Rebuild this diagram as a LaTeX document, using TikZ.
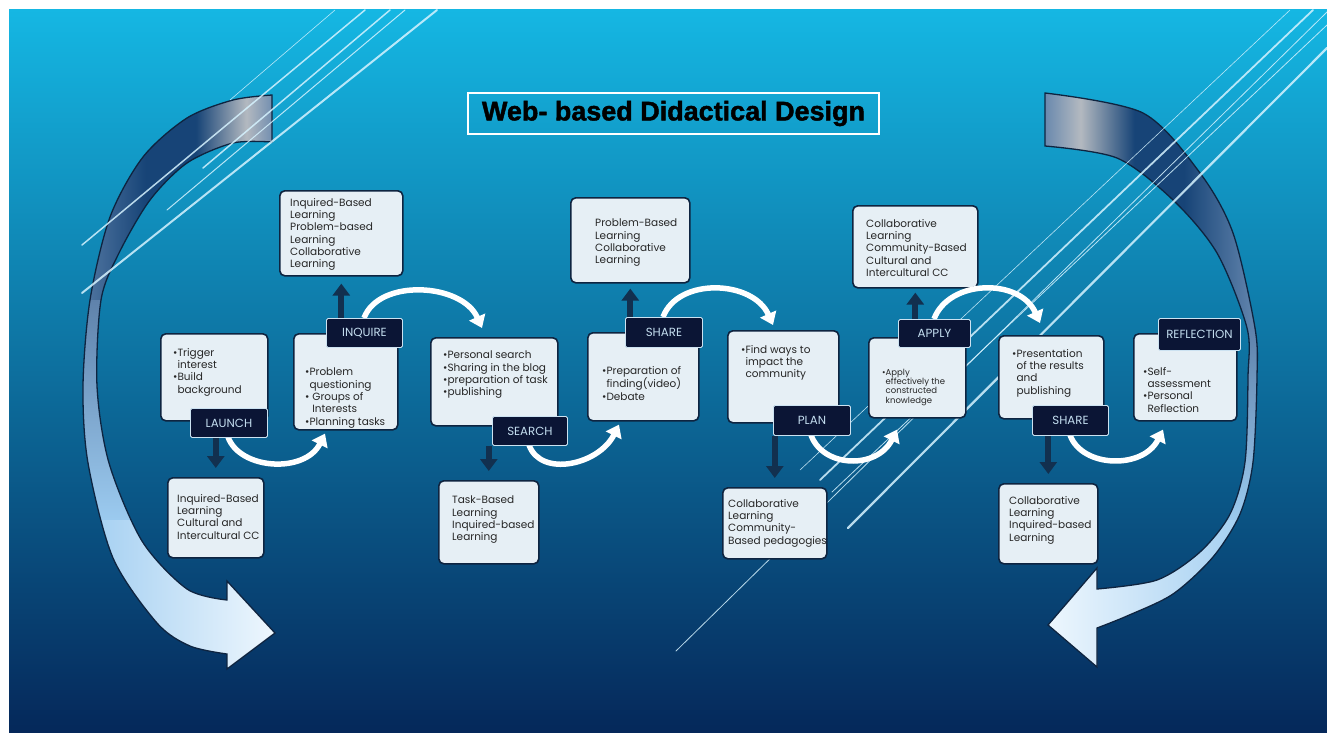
\documentclass[tikz,border=0pt]{standalone}
\usepackage{fontspec}
\usepackage{graphicx}
\setmainfont{Poppins}
\newfontfamily\titlefont[BoldFeatures={FakeBold=1.6}]{Liberation Sans}
\usetikzlibrary{arrows.meta,calc,positioning}
\definecolor{skytop}{HTML}{15B7E3}
\definecolor{skymid}{HTML}{0A74B2}
\definecolor{skybot}{HTML}{05285A}
\definecolor{boxfill}{HTML}{E6EFF5}
\definecolor{boxline}{HTML}{0E2440}
\definecolor{tagfill}{HTML}{0B1535}
\definecolor{tagtext}{HTML}{C3DDEF}
\definecolor{stem}{HTML}{12304F}
\definecolor{streak}{HTML}{D6F3FF}
\definecolor{sweepdark}{HTML}{174477}
\definecolor{sweepgray}{HTML}{B3B9C0}
\definecolor{sweepsteel}{HTML}{5F82AB}
\definecolor{sweeplight}{HTML}{9CCBF0}
\definecolor{sweepbright}{HTML}{3C8EDD}
\definecolor{sweeppale}{HTML}{F0F8FE}
\pgfdeclarehorizontalshading{leftcap}{100bp}{color(0bp)=(sweepsteel); color(25bp)=(sweepsteel); color(43bp)=(sweepdark); color(55bp)=(sweepdark); color(67bp)=(sweepgray); color(75bp)=(sweepsteel); color(100bp)=(sweepsteel)}
\pgfdeclarehorizontalshading{rightcap}{100bp}{color(0bp)=(sweepsteel); color(25bp)=(sweepsteel); color(34bp)=(sweepgray); color(46bp)=(sweepdark); color(57bp)=(sweepdark); color(72bp)=(sweepsteel); color(100bp)=(sweepsteel)}
\newcommand{\leftsweep}{plot[smooth] coordinates {(272,95) (233,100) (187,118) (143,157) (110,217) (90,300) (83,386) (88,463) (113,558) (157,623) (190,646) (227,654)}
  -- (227,669) -- (275,633) -- (227,581)
  -- plot[smooth] coordinates {(227,600) (187,589) (142,541) (109,463) (97,386) (101,300) (119,253) (150,200) (187,163) (233,143) (272,142)} -- cycle}
\newcommand{\rightsweep}{plot[smooth] coordinates {(1045,93) (1143,113) (1200,173) (1233,233) (1255,328) (1257,377) (1253,462) (1240,514) (1213,557) (1173,594) (1127,616) (1097,628)}
  -- (1097,667) -- (1048,625) -- (1097,568)
  -- plot[smooth] coordinates {(1097,589) (1157,580) (1200,552) (1230,514) (1245,462) (1248,377) (1247,328) (1217,253) (1173,200) (1117,158) (1045,146)} -- cycle}
\tikzset{
  panel/.style={draw=boxline, line width=1.6pt, fill=boxfill, rounded corners=5pt, anchor=north west, inner sep=0pt},
  paneltext/.style={anchor=north west, align=left, inner sep=0pt, text=black!85, font=\fontsize{10.5}{12.3}\selectfont},
  tag/.style={draw=tagtext!85, line width=0.9pt, fill=tagfill, rounded corners=1.5pt, anchor=north west, inner sep=0pt, text=tagtext, font=\fontsize{11.8}{13}\selectfont},
  stemline/.style={stem, line width=6pt, -{Triangle[width=17pt,length=12pt]}},
  loopline/.style={white, line width=5.5pt, -{Triangle[width=17pt,length=12pt]}},
  streakline/.style={streak, line cap=round, opacity=.85},
  sweepline/.style={draw=boxline, line width=1.3pt},
}

\begin{document}
\begin{tikzpicture}[x=1pt,y=-1pt]
  \useasboundingbox (0,0) rectangle (1327,740);
  \fill[white] (0,0) rectangle (1327,740);
  \shade[top color=skytop, middle color=skymid, bottom color=skybot] (9,9) rectangle (1327,732);

  % the two big turning arrows
  \begin{scope}
    \clip \leftsweep;
    \shade[shading=leftcap] (70,85) rectangle (280,302);
    \shade[top color=sweepsteel, bottom color=sweeplight] (70,300) rectangle (280,522);
    \shade[left color=sweeplight, middle color=sweepbright, right color=sweeppale] (70,520) rectangle (280,675);
  \end{scope}
  \draw[sweepline] \leftsweep;
  \begin{scope}
    \clip \rightsweep;
    \shade[shading=rightcap] (1040,85) rectangle (1265,332);
    \shade[top color=sweepsteel, bottom color=sweeplight] (1040,330) rectangle (1265,522);
    \shade[left color=sweeppale, middle color=sweepbright, right color=sweeplight] (1040,520) rectangle (1265,672);
  \end{scope}
  \draw[sweepline] \rightsweep;

  % streaks
  \foreach \xa/\ya/\xb/\yb/\w in {82/245/365/10/1.5, 82/293/437/10/2, 167/210/405/10/1, 203/168/390/10/1.5, 230/100/335/10/.6,
      676/651/1327/12/.8, 848/528/1327/48/2.2, 820/480/1313/10/1.8, 832/492/1327/25/.8, 800/470/1290/10/.6}
    \draw[streakline, line width=\w pt] (\xa,\ya) -- (\xb,\yb);

  \node[draw=white, line width=2pt, minimum width=411pt, minimum height=41pt, inner sep=0pt] (title) at (673.5,113.5)
    {\titlefont\bfseries\resizebox{383pt}{!}{Web- based Didactical Design}};

  % launch
  \node[panel, minimum width=107pt, minimum height=87pt] (launch) at (160,333) {};
  \node[paneltext] (launch-t) at (173,348) {•Trigger\\\phantom{•}interest\\•Build\\\phantom{•}background};
  \node[panel, minimum width=96pt, minimum height=80pt] (launchdown) at (167,477) {};
  \node[paneltext] (launchdown-t) at (177,494) {Inquired-Based\\Learning\\Cultural and\\Intercultural CC};
  % inquire
  \node[panel, minimum width=104pt, minimum height=96pt] (inquire) at (293,333) {};
  \node[paneltext] (inquire-t) at (305,368) {•Problem\\\phantom{•}questioning\\• Groups of\\\phantom{• }Interests\\•Planning tasks};
  \node[panel, minimum width=123pt, minimum height=85pt] (inquireup) at (279,190) {};
  \node[paneltext] (inquireup-t) at (290,198) {Inquired-Based\\Learning\\Problem-based\\Learning\\Collaborative\\Learning};
  % search
  \node[panel, minimum width=127pt, minimum height=88pt] (search) at (430,337) {};
  \node[paneltext] (search-t) at (443,351) {•Personal search\\•Sharing in the blog\\•preparation of task\\•publishing};
  \node[panel, minimum width=100pt, minimum height=83pt] (searchdown) at (438,480) {};
  \node[paneltext] (searchdown-t) at (452,496) {Task-Based\\Learning\\Inquired-based\\Learning};
  % share
  \node[panel, minimum width=111pt, minimum height=88pt] (share) at (587,332) {};
  \node[paneltext] (share-t) at (602,366) {•Preparation of\\\phantom{•}finding(video)\\•Debate};
  \node[panel, minimum width=119pt, minimum height=85pt] (shareup) at (570,197) {};
  \node[paneltext] (shareup-t) at (595,219) {Problem-Based\\Learning\\Collaborative\\Learning};
  % plan
  \node[panel, minimum width=111pt, minimum height=92pt] (plan) at (727,330) {};
  \node[paneltext] (plan-t) at (741,345) {•Find ways to\\\phantom{•}impact the\\\phantom{•}community};
  \node[panel, minimum width=104pt, minimum height=71pt] (plandown) at (722,487) {};
  \node[paneltext] (plandown-t) at (728,499) {Collaborative\\Learning\\Community-\\Based pedagogies};
  % apply
  \node[panel, minimum width=97pt, minimum height=80pt] (apply) at (868,337) {};
  \node[paneltext, font=\fontsize{8.5}{9.2}\selectfont] (apply-t) at (882,369) {•Apply\\\phantom{•}effectively the\\\phantom{•}constructed\\\phantom{•}knowledge};
  \node[panel, minimum width=125pt, minimum height=82pt] (applyup) at (852,205) {};
  \node[paneltext] (applyup-t) at (866,219) {Collaborative\\Learning\\Community-Based\\Cultural and\\Intercultural CC};
  % second share
  \node[panel, minimum width=105pt, minimum height=83pt] (sharetwo) at (998,335) {};
  \node[paneltext] (sharetwo-t) at (1012,349) {•Presentation\\\phantom{•}of the results\\\phantom{•}and\\\phantom{•}publishing};
  \node[panel, minimum width=99pt, minimum height=80pt] (sharetwodown) at (998,483) {};
  \node[paneltext] (sharetwodown-t) at (1009,496) {Collaborative\\Learning\\Inquired-based\\Learning};
  % reflection
  \node[panel, minimum width=103pt, minimum height=87pt] (reflect) at (1133,333) {};
  \node[paneltext] (reflect-t) at (1143,367) {•Self-\\\phantom{•}assessment\\•Personal\\\phantom{•}Reflection};

  % white loops from step to step
  \draw[loopline] (228,437) coordinate (launch-out) .. controls +(12,33) and +(-20,40) .. ([xshift=32pt,yshift=-3pt]inquire.south west);
  \draw[loopline] (364,318) coordinate (inquire-out) .. controls +(15,-40) and +(-20,-45) .. ([xshift=52pt,yshift=9pt]search.north west);
  \draw[loopline] (529,445) coordinate (search-out) .. controls +(12,33) and +(-20,40) .. ([xshift=32pt,yshift=-3pt]share.south west);
  \draw[loopline] (663,317) coordinate (share-out) .. controls +(15,-40) and +(-20,-45) .. ([xshift=46pt,yshift=5pt]plan.north west);
  \draw[loopline] (811,435) coordinate (plan-out) .. controls +(12,33) and +(-20,40) .. ([xshift=29pt,yshift=-11pt]apply.south west);
  \draw[loopline] (934,319) coordinate (apply-out) .. controls +(15,-40) and +(-20,-45) .. ([xshift=42pt,yshift=12pt]sharetwo.north west);
  \draw[loopline] (1070,435) coordinate (sharetwo-out) .. controls +(12,33) and +(-20,40) .. ([xshift=30pt,yshift=-8pt]reflect.south west);

  % step tags
  \node[tag, minimum width=77pt, minimum height=29pt] (launchtag) at (190,408) {LAUNCH};
  \node[tag, minimum width=76pt, minimum height=29pt] (inquiretag) at (326,318) {INQUIRE};
  \node[tag, minimum width=75pt, minimum height=29pt] (searchtag) at (492,416) {SEARCH};
  \node[tag, minimum width=77pt, minimum height=30pt] (sharetag) at (625,317) {SHARE};
  \node[tag, minimum width=77pt, minimum height=30pt] (plantag) at (773,405) {PLAN};
  \node[tag, minimum width=72pt, minimum height=28pt] (applytag) at (898,319) {APPLY};
  \node[tag, minimum width=76pt, minimum height=30pt] (sharetwotag) at (1032,405) {SHARE};
  \node[tag, minimum width=82pt, minimum height=32pt] (reflecttag) at (1158,318) {REFLECTION};

  % navy arrows to the pedagogy boxes
  \draw[stemline] (launchdown.north |- launchtag.south) -- ([yshift=9pt]launchdown.north);
  \draw[stemline] (searchdown.north |- searchtag.south) -- ([yshift=9pt]searchdown.north);
  \draw[stemline] (plandown.north |- plantag.south) -- ([yshift=9pt]plandown.north);
  \draw[stemline] (sharetwodown.north |- sharetwotag.south) -- ([yshift=9pt]sharetwodown.north);
  \draw[stemline] (inquireup.south |- inquiretag.north) -- ([yshift=-7pt]inquireup.south);
  \draw[stemline] (shareup.south |- sharetag.north) -- ([yshift=-5pt]shareup.south);
  \draw[stemline] (applyup.south |- applytag.north) -- ([yshift=-4pt]applyup.south);
\end{tikzpicture}
\end{document}
